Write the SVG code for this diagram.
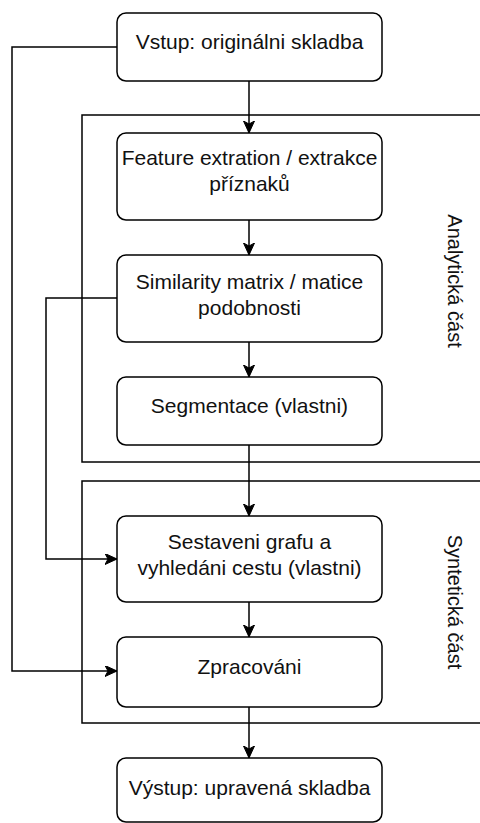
<svg xmlns="http://www.w3.org/2000/svg" width="480" height="823" viewBox="0 0 480 823">
<style>
.box{fill:#fff;stroke:#000;stroke-width:1.5}
.cont{fill:none;stroke:#000;stroke-width:1.5}
.lbl{font-family:"Liberation Sans",Arial,Helvetica,sans-serif;font-size:21px;fill:#111;text-anchor:middle}
.vl{font-family:"Liberation Sans",Arial,Helvetica,sans-serif;font-size:20px;fill:#111;text-anchor:middle}
.edge{fill:none;stroke:#000;stroke-width:1.5}
</style>
<defs>
<marker id="arr" markerUnits="userSpaceOnUse" markerWidth="14" markerHeight="14" refX="12" refY="5.5" orient="auto">
<path d="M0,0 L12,5.5 L0,11 L3,5.5 z" fill="#000" stroke="#000" stroke-width="1"/>
</marker>
</defs>
<rect width="480" height="823" fill="#fff"/>
<g id="analyticka">
<rect class="cont" x="82" y="115" width="402" height="347"/>
<text class="vl" transform="translate(448,281) rotate(90)">Analytická část</text>
</g>
<g id="synteticka">
<rect class="cont" x="82" y="481" width="402" height="242"/>
<text class="vl" transform="translate(448,602) rotate(90)">Syntetická část</text>
</g>
<g id="edges">
<path class="edge" d="M249,81 V133" marker-end="url(#arr)"/>
<path class="edge" d="M249,220 V255" marker-end="url(#arr)"/>
<path class="edge" d="M249,342 V377" marker-end="url(#arr)"/>
<path class="edge" d="M249,445 V516" marker-end="url(#arr)"/>
<path class="edge" d="M249,602 V637" marker-end="url(#arr)"/>
<path class="edge" d="M249,707 V758" marker-end="url(#arr)"/>
<path class="edge" d="M117,47 H12 V671 H117" marker-end="url(#arr)"/>
<path class="edge" d="M117,298 H46 V559 H117" marker-end="url(#arr)"/>
</g>
<g id="vstup">
<rect class="box" x="117" y="13" width="265" height="68" rx="9"/>
<text class="lbl" x="249.5" y="49">Vstup: originálni skladba</text>
</g>
<g id="feature">
<rect class="box" x="117" y="133" width="265" height="87" rx="9"/>
<text class="lbl" x="249.5" y="165">Feature extration / extrakce</text>
<text class="lbl" x="249.5" y="191">příznaků</text>
</g>
<g id="similarity">
<rect class="box" x="117" y="255" width="265" height="87" rx="9"/>
<text class="lbl" x="249.5" y="289">Similarity matrix / matice</text>
<text class="lbl" x="249.5" y="315">podobnosti</text>
</g>
<g id="segmentace">
<rect class="box" x="117" y="377" width="265" height="68" rx="9"/>
<text class="lbl" x="249.5" y="413">Segmentace (vlastni)</text>
</g>
<g id="sestaveni">
<rect class="box" x="117" y="516" width="265" height="86" rx="9"/>
<text class="lbl" x="249.5" y="549">Sestaveni grafu a</text>
<text class="lbl" x="249.5" y="575">vyhledáni cestu (vlastni)</text>
</g>
<g id="zpracovani">
<rect class="box" x="117" y="637" width="265" height="70" rx="9"/>
<text class="lbl" x="249.5" y="674">Zpracováni</text>
</g>
<g id="vystup">
<rect class="box" x="117" y="758" width="265" height="64" rx="9"/>
<text class="lbl" x="249.5" y="795">Výstup: upravená skladba</text>
</g>
</svg>
